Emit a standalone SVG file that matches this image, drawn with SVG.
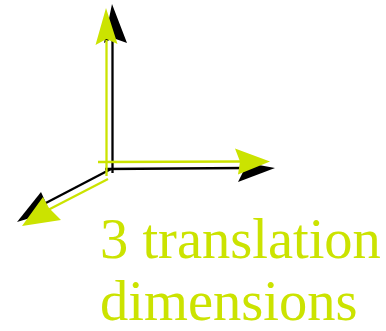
<svg xmlns="http://www.w3.org/2000/svg" width="386" height="331" viewBox="0 0 386 331">
<style>
.blk{stroke:#000;stroke-width:2.3;fill:none}
.yel{stroke:#cbe300;stroke-width:2.3;fill:none}
.bh{fill:#000}
.yh{fill:#cbe300}
.lbl{font-family:"Liberation Serif","Times New Roman",serif;font-size:56.5px;fill:#cbe300}
</style>
<rect width="386" height="331" fill="#fff"/>
<g id="connectors">
<g id="black-axes">
<line class="blk" x1="112.5" y1="173" x2="112.5" y2="38"/>
<polygon class="bh" points="112,4 127,43 113,38 104,43"/>
<line class="blk" x1="105" y1="169" x2="245" y2="168"/>
<polygon class="bh" points="275,168 238,182 244,170 248,163"/>
<line class="blk" x1="111" y1="169" x2="42" y2="205"/>
<polygon class="bh" points="17,222 41,192 46,203 50,212"/>
</g>
<g id="yellow-axes">
<line class="yel" x1="106.5" y1="176" x2="106.5" y2="40"/>
<polygon class="yh" points="106,8 117.5,44 106.5,39 95.5,45"/>
<line class="yel" x1="98" y1="162" x2="242" y2="161.5"/>
<polygon class="yh" points="270,161.5 235,148.5 240,161.5 238,174.5"/>
<line class="yel" x1="108" y1="179" x2="48" y2="210"/>
<polygon class="yh" points="22,226 43,197 49,208 61,220"/>
</g>
</g>
<g id="label">
<text class="lbl" x="100" y="258">3 translation</text>
<text class="lbl" x="100" y="320">dimensions</text>
</g>
</svg>
